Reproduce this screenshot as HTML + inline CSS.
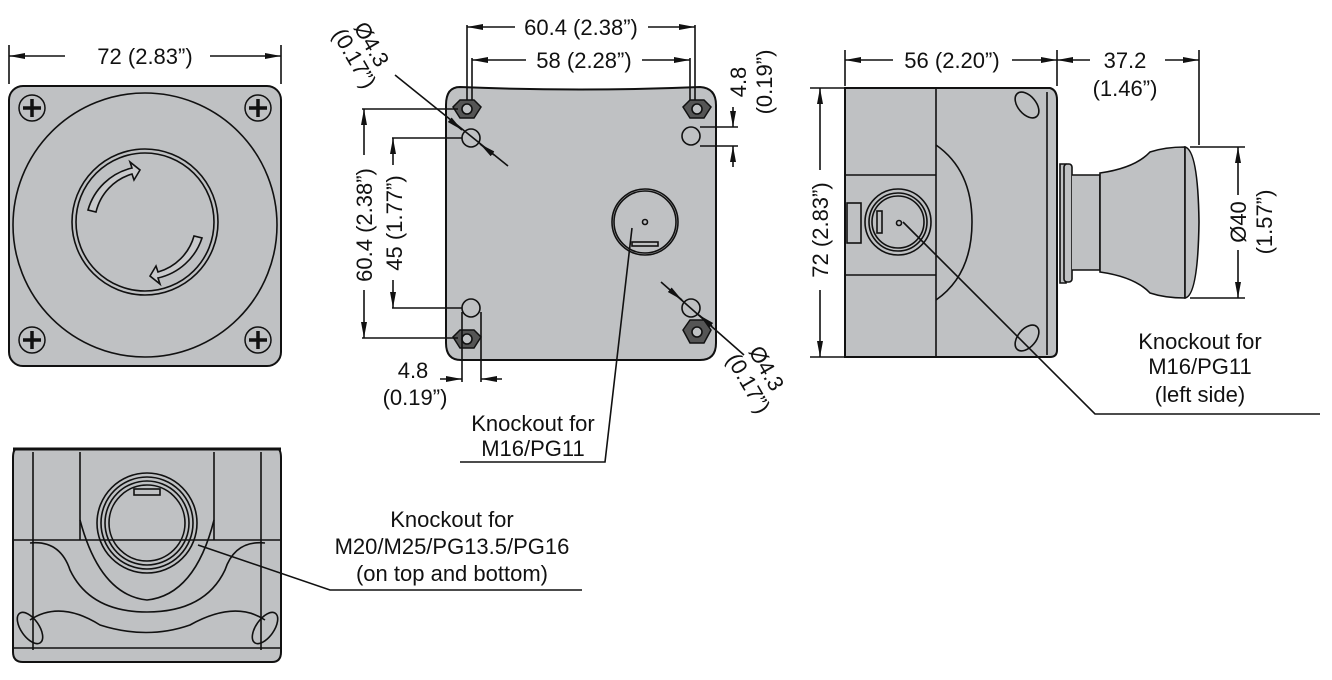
<!DOCTYPE html>
<html><head><meta charset="utf-8"><style>
html,body{margin:0;padding:0;background:#fff;}
svg{display:block}
text{font-family:"Liberation Sans Narrow","Liberation Sans",sans-serif;font-size:22px;fill:#111;}
</style></head><body>
<svg width="1332" height="680" viewBox="0 0 1332 680" xmlns="http://www.w3.org/2000/svg">
<defs>
<marker id="a" viewBox="0 0 16 8" refX="16" refY="4" markerWidth="16" markerHeight="8" orient="auto-start-reverse" markerUnits="userSpaceOnUse"><path d="M0,1 L16,4 L0,7 z" fill="#111"/></marker>
</defs>
<g stroke="#111" stroke-width="1.6" fill="none">
<!-- FRONT VIEW -->
<rect x="9" y="86" width="272" height="280" rx="14" fill="#bfc1c3" stroke-width="2"/>
<circle cx="145" cy="225" r="132"/>
<circle cx="145" cy="222" r="73"/>
<circle cx="145" cy="222" r="69"/>
<path d="M88,210 A60,60 0 0 1 132,168 L130,162 L140,170 L134,180 L132,174 A52,52 0 0 0 96,212 Z" fill="#c9cacc"/>
<path d="M202,238 A60,60 0 0 1 158,278 L160,284 L150,276 L156,266 L158,272 A52,52 0 0 0 194,236 Z" fill="#c9cacc"/>
<g stroke-width="1.5">
<circle cx="32" cy="108" r="13"/><circle cx="258" cy="108" r="13"/><circle cx="32" cy="340" r="13"/><circle cx="258" cy="340" r="13"/>
</g>
<g stroke-width="3.5">
<path d="M32,99v18M23,108h18M258,99v18M249,108h18M32,331v18M23,340h18M258,331v18M249,340h18"/>
</g>
<path d="M9,84V45M281,84V45"/>
<path d="M65,56H9" marker-end="url(#a)"/><path d="M210,56H281" marker-end="url(#a)"/>

<!-- MIDDLE VIEW -->
<path d="M460,87 Q580,92 700,87 Q716,88 716,105 V343 Q716,360 700,360 H461 Q446,360 446,343 V105 Q446,87 460,87 Z" fill="#bfc1c3" stroke-width="2"/>
<g fill="#555" stroke-width="1.5">
<polygon points="460,100 474,100 481,107 474,118 460,118 453,107"/>
<polygon points="690,100 704,100 711,107 704,118 690,118 683,107"/>
<polygon points="460,330 474,330 481,337 474,348 460,348 453,337"/>
<polygon points="690,320 704,320 711,330 704,343 690,343 683,330"/>
</g>
<g fill="#bfc1c3"><circle cx="467" cy="109" r="5"/><circle cx="697" cy="109" r="5"/><circle cx="467" cy="339" r="5"/><circle cx="697" cy="332" r="5"/></g>
<g fill="#bfc1c3"><circle cx="471" cy="138" r="9"/><circle cx="691" cy="136" r="9"/><circle cx="471" cy="308" r="9"/><circle cx="691" cy="308" r="9"/></g>
<circle cx="645" cy="222" r="33"/><circle cx="645" cy="222" r="31"/>
<circle cx="645" cy="222" r="2.5"/>
<rect x="632" y="242" width="26" height="4"/>
<!-- dims -->
<path d="M467,100V25M695,100V25M472,100V58M690,100V58"/>
<path d="M515,27H467" marker-end="url(#a)"/><path d="M648,27H695" marker-end="url(#a)"/>
<path d="M526,60H472" marker-end="url(#a)"/><path d="M642,60H690" marker-end="url(#a)"/>
<path d="M362,109H458M392,138H462M362,338H458M392,308H462"/>
<path d="M364,155V109" marker-end="url(#a)"/><path d="M364,290V338" marker-end="url(#a)"/>
<path d="M393,165V138" marker-end="url(#a)"/><path d="M393,280V308" marker-end="url(#a)"/>
<path d="M700,127H738M700,146H738"/>
<path d="M733,107V127" marker-end="url(#a)"/><path d="M733,167V146" marker-end="url(#a)"/>
<path d="M462,312V382M481,312V382"/>
<path d="M440,379H462" marker-end="url(#a)"/><path d="M502,379H481" marker-end="url(#a)"/>
<path d="M395,75L508,166"/><path d="M450,120L462,130" marker-end="url(#a)"/><path d="M494,155L480,144" marker-end="url(#a)"/>
<path d="M661,282L744,355"/><path d="M670,290L682,300" marker-end="url(#a)"/><path d="M712,326L699,315" marker-end="url(#a)"/>
<path d="M632,228L605,462H460"/>

<!-- SIDE VIEW -->
<path d="M845,88 H1050 Q1057,90 1057,100 V350 Q1057,357 1050,357 H845 Z" fill="#bfc1c3" stroke-width="2"/>
<path d="M936,88V357"/>
<path d="M936,145 Q972,170 972,222 Q972,275 936,300"/>
<path d="M846,175 H936 M846,275 H936"/>
<path d="M1047,92V355"/>
<circle cx="898" cy="222" r="33"/><circle cx="898" cy="222" r="29"/><circle cx="898" cy="222" r="26"/>
<circle cx="899" cy="223" r="2.5"/>
<rect x="877" y="211" width="5" height="22"/>
<rect x="847" y="203" width="14" height="40"/>
<ellipse cx="1027" cy="105" rx="9" ry="15" transform="rotate(-40 1027 105)"/>
<ellipse cx="1027" cy="338" rx="9" ry="15" transform="rotate(40 1027 338)"/>
<path d="M1060,164 H1066 V283 H1060 Z" fill="#bfc1c3"/>
<rect x="1064" y="164" width="8" height="118" rx="3" fill="#bfc1c3"/>
<path d="M1072,175 H1100 V270 H1072" fill="#bfc1c3"/>
<path d="M1100,173 Q1135,168 1150,152 Q1165,147 1185,147 V298 Q1165,298 1150,293 Q1135,277 1100,272 Z" fill="#bfc1c3"/>
<path d="M1185,147 Q1198,150 1199,222 Q1198,296 1185,298 Z" fill="#bfc1c3"/>
<path d="M845,86V50M1057,86V50M1199,145V50"/>
<path d="M893,60H845" marker-end="url(#a)"/><path d="M1012,60H1057" marker-end="url(#a)"/>
<path d="M1090,60H1057" marker-end="url(#a)"/><path d="M1165,60H1199" marker-end="url(#a)"/>
<path d="M810,88H845M810,357H845"/>
<path d="M820,170V88" marker-end="url(#a)"/><path d="M820,290V357" marker-end="url(#a)"/>
<path d="M1190,147H1245M1190,298H1245"/>
<path d="M1238,195V147" marker-end="url(#a)"/><path d="M1238,250V298" marker-end="url(#a)"/>
<path d="M903,222L1095,414H1320"/>

<!-- BOTTOM VIEW -->
<path d="M16,449 H278 Q281,450 281,458 V652 Q281,662 272,662 H23 Q13,662 13,652 V458 Q13,450 16,449 Z" fill="#bfc1c3" stroke-width="2"/>
<path d="M13,648H281M13,540H281"/>
<path d="M33,452V650M261,452V650M80,452V540M214,452V540"/>
<path d="M30,543 Q60,540 70,570 Q90,612 147,612 Q205,612 225,570 Q235,540 265,543"/>
<path d="M80,520 Q100,595 147,600 Q195,595 214,520"/>
<path d="M30,620 Q60,600 100,625 Q147,640 190,625 Q235,600 265,620"/>
<ellipse cx="30" cy="628" rx="9" ry="18" transform="rotate(-35 30 628)"/>
<ellipse cx="265" cy="628" rx="9" ry="18" transform="rotate(35 265 628)"/>
<circle cx="147" cy="523" r="50"/><circle cx="147" cy="523" r="46"/><circle cx="147" cy="523" r="42"/><circle cx="147" cy="523" r="38"/>
<rect x="134" y="489" width="26" height="6"/>
<path d="M198,545L330,590H582"/>
</g>
<g stroke="#111" stroke-width="3"><path d="M13,449H281"/></g>

<!-- TEXT -->
<text x="145" y="64" text-anchor="middle">72 (2.83”)</text>
<text x="581" y="35" text-anchor="middle">60.4 (2.38”)</text>
<text x="584" y="68" text-anchor="middle">58 (2.28”)</text>
<text transform="translate(372,225) rotate(-90)" text-anchor="middle">60.4 (2.38”)</text>
<text transform="translate(402,223) rotate(-90)" text-anchor="middle">45 (1.77”)</text>
<text transform="translate(746,82) rotate(-90)" text-anchor="middle">4.8</text>
<text transform="translate(772,82) rotate(-90)" text-anchor="middle">(0.19”)</text>
<text x="413" y="378" text-anchor="middle">4.8</text>
<text x="415" y="405" text-anchor="middle">(0.19”)</text>
<text transform="translate(365,48) rotate(60)" text-anchor="middle">Ø4.3</text>
<text transform="translate(348,62) rotate(60)" text-anchor="middle">(0.17”)</text>
<text transform="translate(760,372) rotate(60)" text-anchor="middle">Ø4.3</text>
<text transform="translate(742,387) rotate(60)" text-anchor="middle">(0.17”)</text>
<text x="533" y="431" text-anchor="middle">Knockout for</text>
<text x="533" y="456" text-anchor="middle">M16/PG11</text>
<text x="952" y="68" text-anchor="middle">56 (2.20”)</text>
<text x="1125" y="68" text-anchor="middle">37.2</text>
<text x="1125" y="96" text-anchor="middle">(1.46”)</text>
<text transform="translate(828,230) rotate(-90)" text-anchor="middle">72 (2.83”)</text>
<text transform="translate(1246,222) rotate(-90)" text-anchor="middle">Ø40</text>
<text transform="translate(1272,222) rotate(-90)" text-anchor="middle">(1.57”)</text>
<text x="1200" y="349" text-anchor="middle">Knockout for</text>
<text x="1200" y="374" text-anchor="middle">M16/PG11</text>
<text x="1200" y="402" text-anchor="middle">(left side)</text>
<text x="452" y="527" text-anchor="middle">Knockout for</text>
<text x="452" y="554" text-anchor="middle">M20/M25/PG13.5/PG16</text>
<text x="452" y="581" text-anchor="middle">(on top and bottom)</text>
</svg>
</body></html>
